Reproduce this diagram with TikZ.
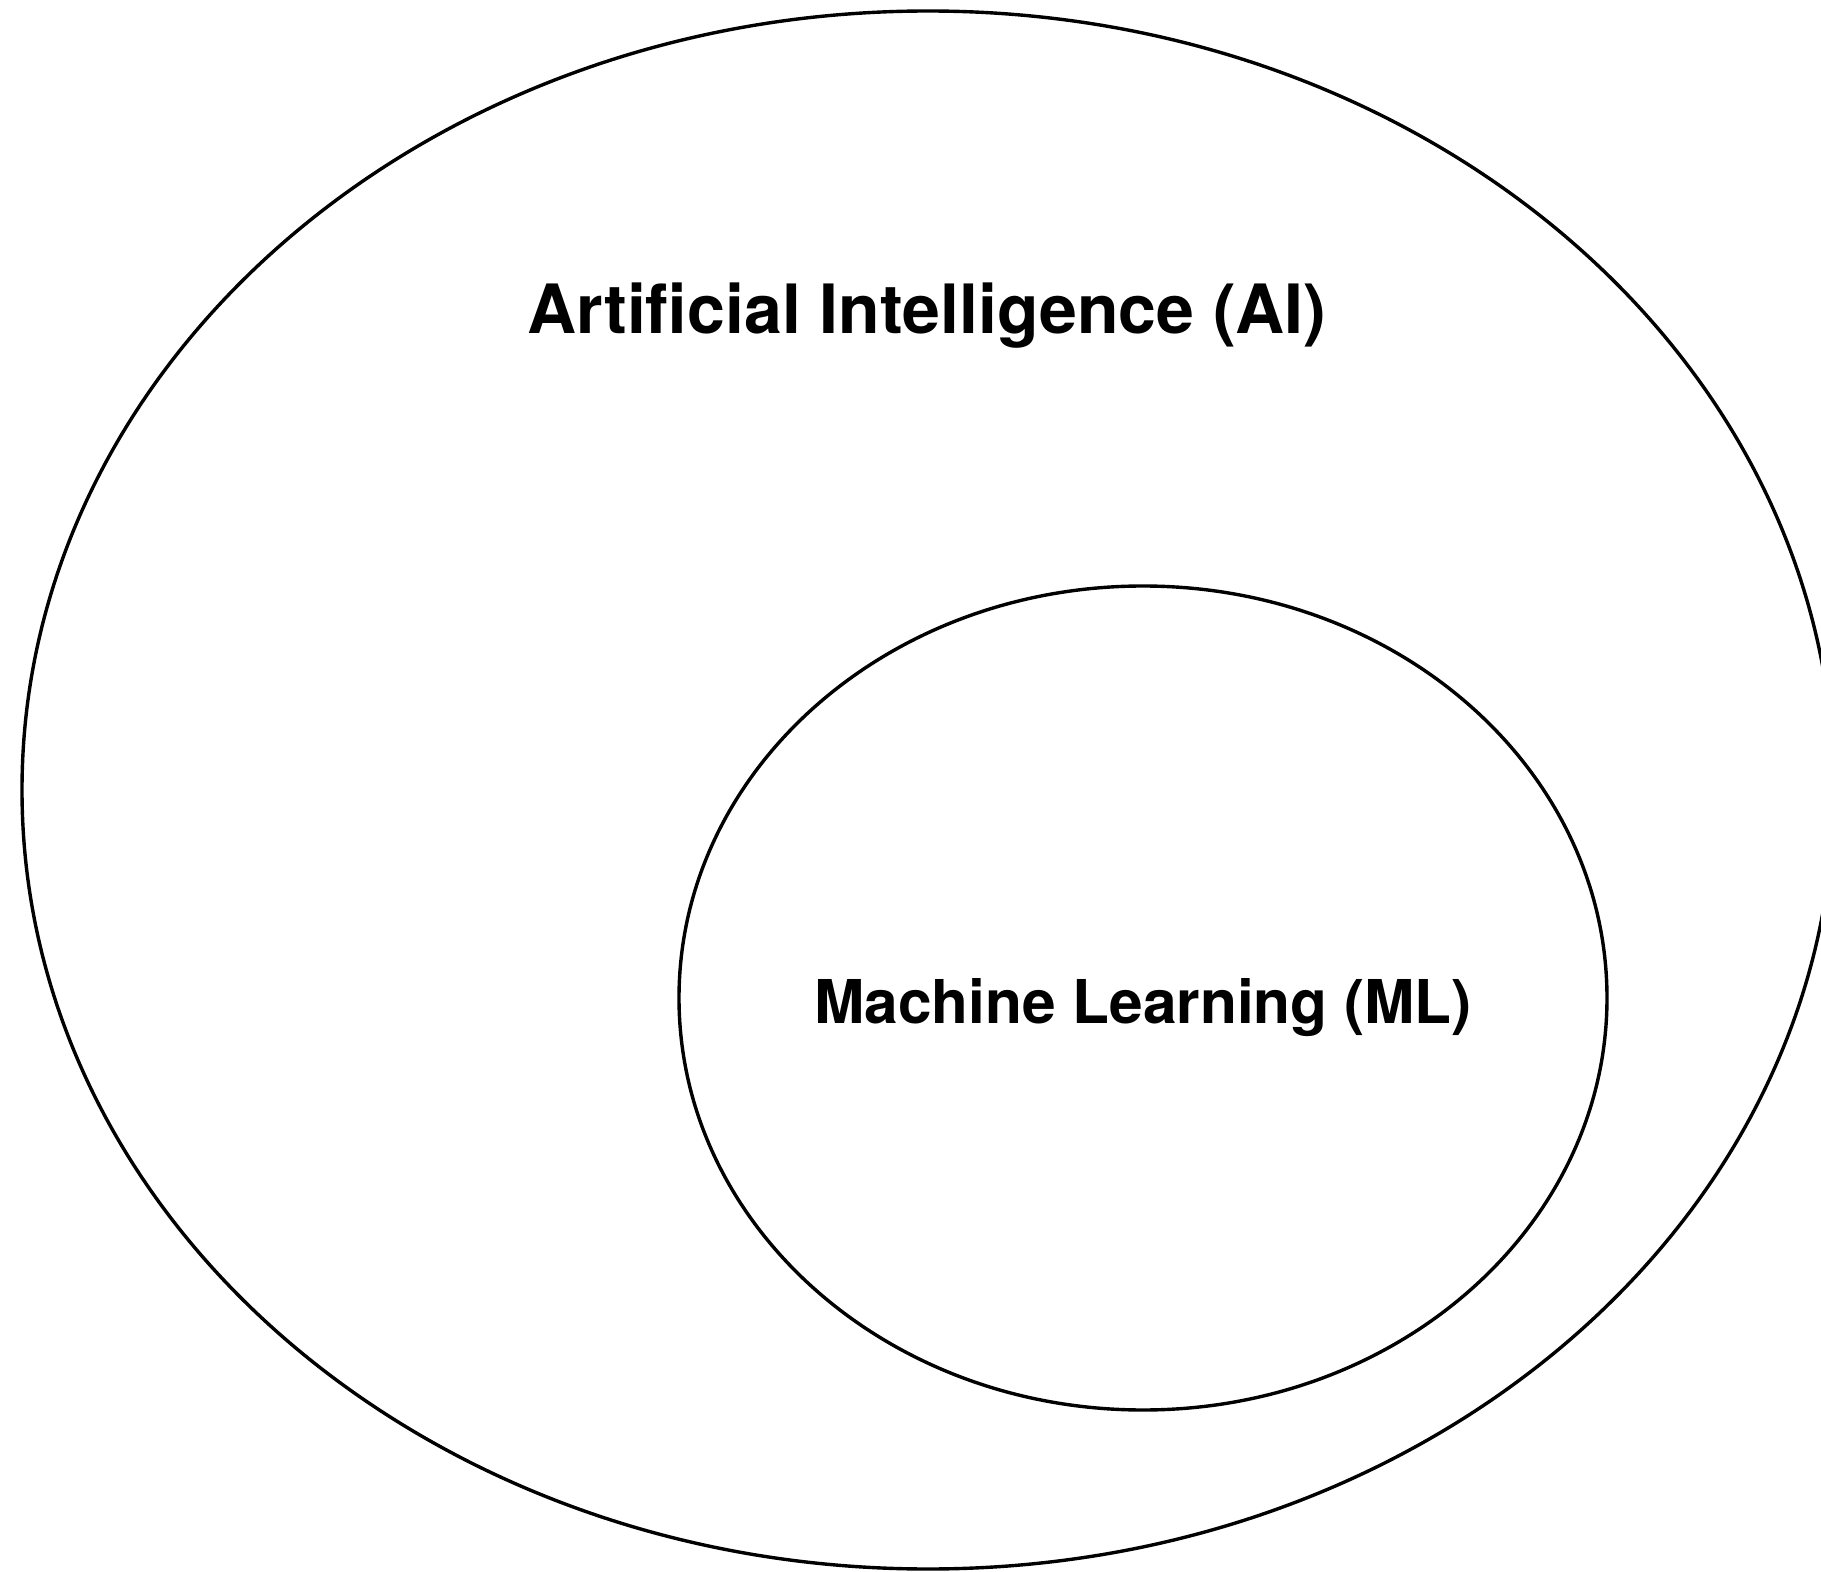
\documentclass[tikz,border=0pt]{standalone}
\usepackage{fontspec}
\setmainfont{TeX Gyre Heros}
\tikzstyle{setE}=[draw=black, line width=1.7pt]
\tikzstyle{setL}=[font=\fontsize{34}{40}\selectfont\bfseries, inner sep=0pt, anchor=base]
\tikzstyle{setLs}=[setL, font=\fontsize{30.2}{36}\selectfont\bfseries]

\begin{document}
\begin{tikzpicture}[x=0.5pt, y=-0.5pt]
      \useasboundingbox (0,0) rectangle (1821,1572);
      \draw[setE] (928,790) ellipse [x radius=906, y radius=779];
      \draw[setE] (1143,998) ellipse [x radius=464, y radius=412];
      \node(ai) [setL] at (927,334){Artificial Intelligence (AI)};
      \node(ml) [setLs] at (1143,1023){Machine Learning (ML)};
    \end{tikzpicture}
\end{document}
